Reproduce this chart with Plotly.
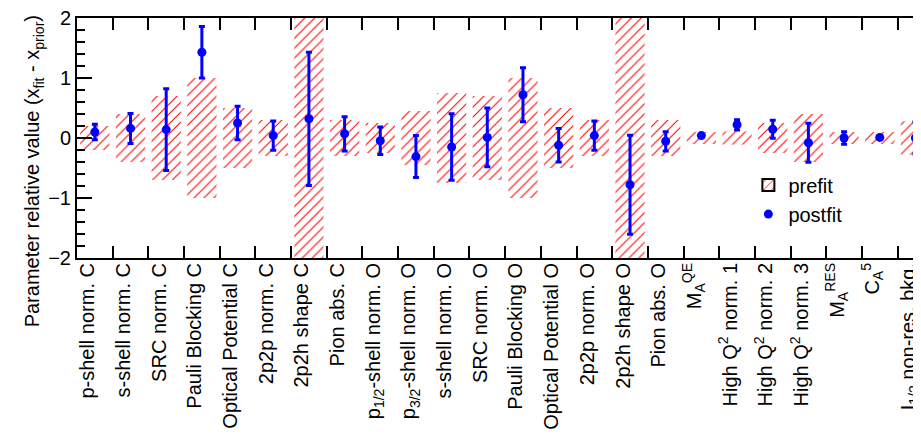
import plotly.graph_objects as go

# ---------------- data ----------------
labels = [
    "p-shell norm. C", "s-shell norm. C", "SRC norm. C", "Pauli Blocking C",
    "Optical Potential C", "2p2p norm. C", "2p2h shape C", "Pion abs. C",
    "p<sub>1/2</sub>-shell norm. O", "p<sub>3/2</sub>-shell norm. O",
    "s-shell norm. O", "SRC norm. O", "Pauli Blocking O", "Optical Potential O",
    "2p2p norm. O", "2p2h shape O", "Pion abs. O",
    "M<sub>A</sub><sup>QE</sup>", "High Q<sup>2</sup> norm. 1",
    "High Q<sup>2</sup> norm. 2", "High Q<sup>2</sup> norm. 3",
    "M<sub>A</sub><sup>RES</sup>", "C<sub>A</sub><sup>5</sup>",
    "I<sub>1/2</sub> non-res. bkg.",
]
prefit_err = [0.2, 0.4, 0.7, 1.0, 0.5, 0.3, 3.0, 0.3,
              0.25, 0.45, 0.75, 0.7, 1.0, 0.5, 0.3, 3.0, 0.3,
              0.1, 0.11, 0.25, 0.4, 0.1, 0.1, 0.28]
postfit_val = [0.10, 0.16, 0.14, 1.43, 0.25, 0.04, 0.32, 0.07,
               -0.045, -0.31, -0.15, 0.01, 0.72, -0.12, 0.04, -0.78, -0.055,
               0.04, 0.22, 0.145, -0.08, 0.0, 0.01, 0.0]
postfit_err = [0.13, 0.25, 0.68, 0.43, 0.28, 0.245, 1.11, 0.285,
               0.23, 0.35, 0.555, 0.49, 0.45, 0.28, 0.245, 0.825, 0.16,
               0.02, 0.085, 0.15, 0.325, 0.105, 0.02, 0.265]
y_ticks = [-2, -1, 0, 1, 2]

FONT = "Liberation Sans, Arial, Helvetica, sans-serif"
RED = "#ff0000"
BLUE = "#0000ff"
hatch = dict(shape="/", fgcolor=RED, bgcolor="rgba(0,0,0,0)", fgopacity=1,
             size=7, solidity=0.15, fillmode="overlay")

fig = go.Figure()
fig.add_trace(go.Bar(
    x=labels,
    y=[2 * e for e in prefit_err],
    base=[-e for e in prefit_err],
    width=0.82,
    name="prefit",
    showlegend=False,
    marker=dict(color="rgba(0,0,0,0)", line=dict(width=0), pattern=hatch),
))
# legend proxy for the prefit band (black outline as in the reference legend)
fig.add_trace(go.Bar(
    x=[None], y=[None], name="prefit",
    marker=dict(color="rgba(0,0,0,0)", line=dict(width=2, color="black"),
                pattern=hatch),
))
fig.add_trace(go.Scatter(
    x=labels, y=postfit_val, mode="markers", name="postfit",
    marker=dict(color=BLUE, size=9),
    error_y=dict(type="data", array=postfit_err, color=BLUE,
                 thickness=3, width=3),
))

fig.update_layout(
    width=921, height=436,
    margin=dict(l=69, r=0, t=10, b=186),
    paper_bgcolor="white", plot_bgcolor="white",
    font=dict(family=FONT, size=20, color="black"),
    showlegend=True,
    legend=dict(x=0.788, y=0.385, xanchor="left", yanchor="top",
                bgcolor="rgba(0,0,0,0)", font=dict(size=20),
                traceorder="normal", tracegroupgap=0),
    xaxis=dict(
        type="category", range=[-0.5, 23.38],
        tickson="boundaries", ticks="inside", ticklen=12, tickwidth=2,
        tickcolor="black", showline=True, linewidth=2, linecolor="black",
        mirror="ticks", showgrid=False, tickangle=-90,
        tickfont=dict(size=20), zeroline=False, ticklabeloverflow="allow",
        ticklabelstandoff=-5, ticklabelshift=-7,
    ),
    yaxis=dict(
        range=[-2, 2], tickvals=y_ticks, ticks="inside", ticklen=15,
        tickwidth=2, tickcolor="black", showline=True, linewidth=2,
        linecolor="black", showgrid=False, zeroline=False,
        ticklabeloverflow="allow",
        minor=dict(dtick=0.2, ticks="inside", ticklen=8, tickwidth=2,
                   tickcolor="black", showgrid=False),
        tickfont=dict(size=20),
    ),
    yaxis2=dict(
        overlaying="y", side="right", range=[-2, 2], tickvals=y_ticks,
        ticks="inside", ticklen=9, tickwidth=2, tickcolor="black",
        showline=False, showgrid=False, zeroline=False,
        showticklabels=False,
        minor=dict(dtick=0.2, ticks="inside", ticklen=2, tickwidth=2,
                   tickcolor="black", showgrid=False),
    ),
    annotations=[dict(
        text="Parameter relative value (x<sub>fit</sub> - x<sub>prior</sub>)",
        xref="paper", yref="paper", x=-0.050, y=1.021,
        xanchor="center", yanchor="top", textangle=-90, showarrow=False,
        font=dict(size=20),
    )],
)

fig.write_html("out.html")
